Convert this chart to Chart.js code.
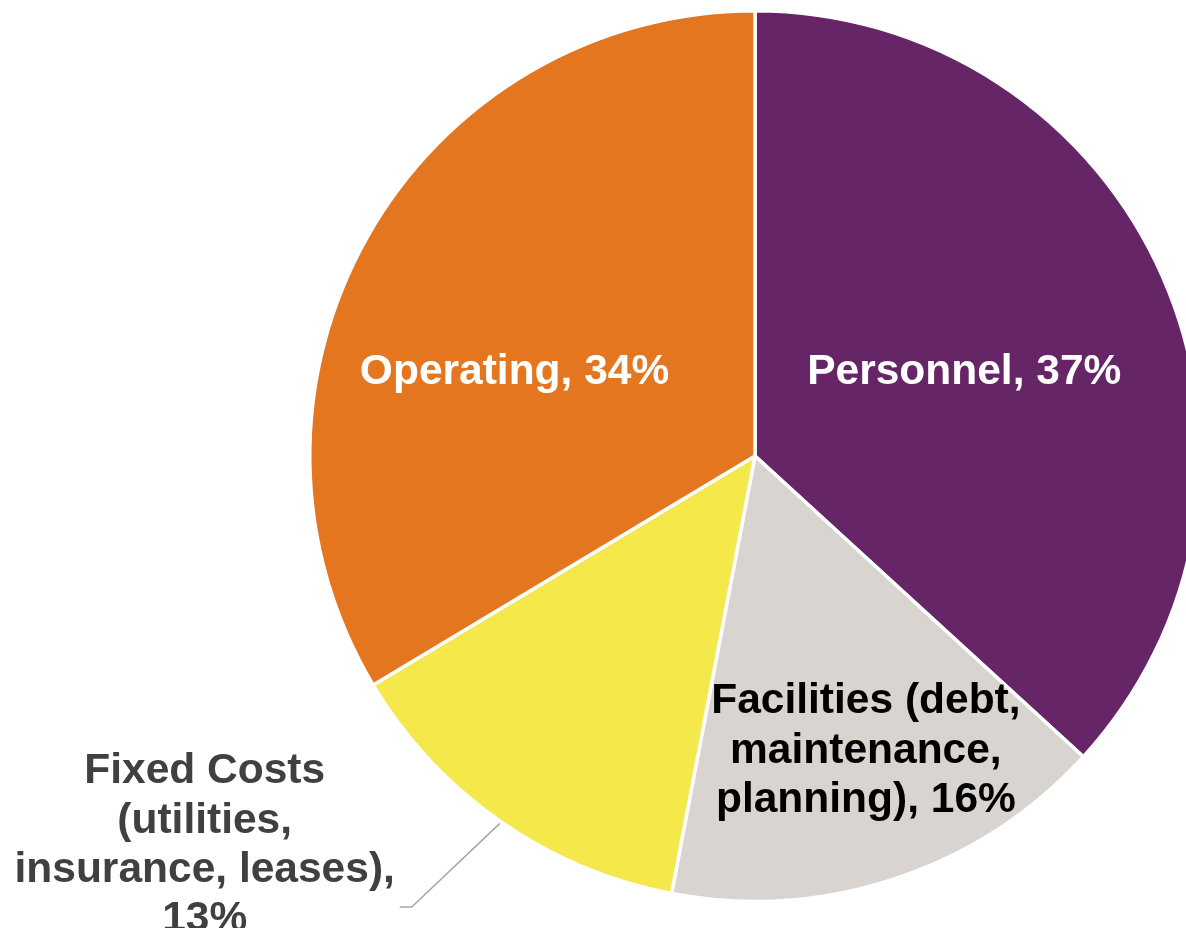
<!DOCTYPE html>
<html>
<head>
<meta charset="utf-8">
<script src="https://cdn.jsdelivr.net/npm/chart.js@4/dist/chart.umd.min.js"></script>
<style>
  html, body { margin: 0; padding: 0; background: #ffffff; overflow: hidden; width: 1186px; height: 928px; }
  #wrap { position: absolute; left: 0; top: 0; width: 1202px; height: 928px; }
</style>
</head>
<body>
<div id="wrap"><canvas id="c" width="1202" height="928"></canvas></div>
<script>
// ---- data ----
const categories = ["Personnel", "Facilities (debt, maintenance, planning)", "Fixed Costs (utilities, insurance, leases)", "Operating"];
const shares = [36.8, 16.2, 13.4, 33.6];
const sliceColors = ["#652567", "#D9D4CF", "#F5E84A", "#E47620"];

// label text lines (percent appended from data)
const labelLines = [
  ["Personnel, "],
  ["Facilities (debt,", "maintenance,", "planning), "],
  ["Fixed Costs", "(utilities,", "insurance, leases),", ""],
  ["Operating, "]
];
const labelColors = ["#ffffff", "#000000", "#404040", "#ffffff"];
// label anchor (first baseline) offsets in units of the pie radius
const labelAnchors = [[0.470, -0.162], [0.249, 0.578], [-1.236, 0.735], [-0.540, -0.162]];
const leader = [[-0.573, 0.825], [-0.771, 1.013], [-0.798, 1.013]];

const labelPlugin = {
  id: 'sliceLabels',
  afterDatasetsDraw(chart) {
    const ctx = chart.ctx;
    const meta = chart.getDatasetMeta(0);
    const arc0 = meta.data[0];
    const cx = arc0.x, cy = arc0.y, r = arc0.outerRadius;
    const total = shares.reduce((a, b) => a + b, 0);
    ctx.save();
    // leader line for Fixed Costs
    ctx.strokeStyle = "#A6A6A6";
    ctx.lineWidth = 1.5;
    ctx.beginPath();
    leader.forEach((p, i) => {
      const x = cx + p[0] * r, y = cy + p[1] * r;
      if (i === 0) ctx.moveTo(x, y); else ctx.lineTo(x, y);
    });
    ctx.stroke();
    ctx.font = 'bold 42.5px "Liberation Sans", Arial, sans-serif';
    ctx.textAlign = 'center';
    ctx.textBaseline = 'alphabetic';
    const lh = 49.3;
    labelLines.forEach((lines, i) => {
      const pct = Math.round(shares[i] / total * 100) + "%";
      const ax = cx + labelAnchors[i][0] * r;
      const ay = cy + labelAnchors[i][1] * r;
      ctx.fillStyle = labelColors[i];
      lines.forEach((ln, j) => {
        const txt = (j === lines.length - 1) ? ln + pct : ln;
        ctx.fillText(txt, ax, ay + j * lh);
      });
    });
    ctx.restore();
  }
};

new Chart(document.getElementById('c'), {
  type: 'pie',
  data: {
    labels: categories,
    datasets: [{
      data: shares,
      backgroundColor: sliceColors,
      borderColor: "#ffffff",
      borderWidth: 3.5
    }]
  },
  options: {
    responsive: false,
    animation: false,
    layout: { padding: { left: 308, right: 0, top: 9, bottom: 25 } },
    plugins: {
      legend: { display: false },
      tooltip: { enabled: false }
    }
  },
  plugins: [labelPlugin]
});
</script>
</body>
</html>
